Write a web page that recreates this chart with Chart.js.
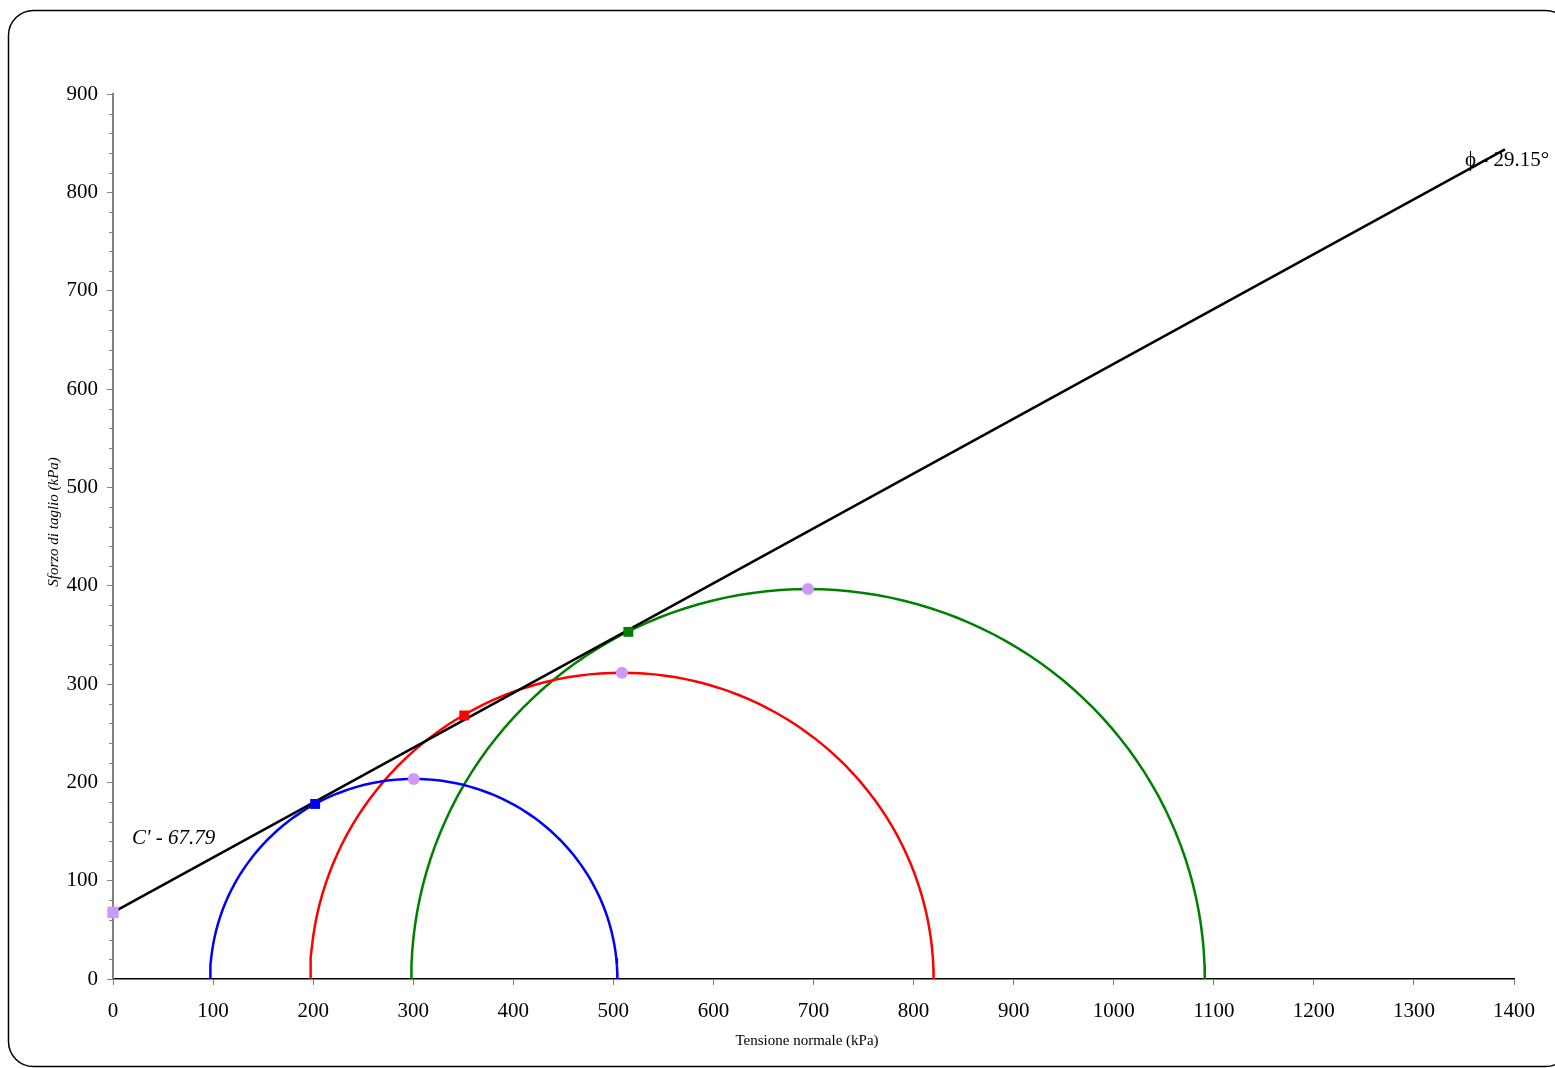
<!DOCTYPE html>
<html>
<head>
<meta charset="utf-8">
<script src="https://cdn.jsdelivr.net/npm/chart.js@4.4.1/dist/chart.umd.min.js"></script>
<style>
  body{margin:0;background:#fff;}
  #wrap{width:1555px;height:1068px;position:relative;}
</style>
</head>
<body>
<div id="wrap"><canvas id="mohrChart"></canvas></div>
<script>
// prove: tensioni principali minore / maggiore (kPa)
var sigma3=[97,197,298];
var sigma1=[504,820,1091];
var circleColors=['#0000ff','#ff0000','#008000'];
// punti di tangenza
var tangX=[202,351,515];
var tangY=[178,268,353];
// inviluppo di rottura
var coesione=67.79;
var phiGradi=29.15;
var envX=[0,1391];
// assi
var xMax=1400, xStep=100;
var yMax=900, yStep=100, yMinor=20;

var dots='#cc99ff';

function arc(i){
  var c=(sigma1[i]+sigma3[i])/2, r=(sigma1[i]-sigma3[i])/2, pts=[];
  for(var a=0;a<=180;a+=2){
    var t=a*Math.PI/180;
    pts.push({x:c-r*Math.cos(t),y:r*Math.sin(t)});
  }
  return pts;
}

var datasets=[];
// cerchi di Mohr
for(var i=0;i<sigma3.length;i++){
  datasets.push({data:arc(i),showLine:true,borderColor:circleColors[i],borderWidth:2.5,pointRadius:0,fill:false,order:3});
}
// inviluppo
var tanPhi=Math.tan(phiGradi*Math.PI/180);
datasets.push({
  data:envX.map(function(x){return {x:x,y:coesione+x*tanPhi};}),
  showLine:true,borderColor:'#000',borderWidth:2.5,pointRadius:0,order:2,clip:false
});
// punti di tangenza
for(var j=0;j<tangX.length;j++){
  datasets.push({data:[{x:tangX[j],y:tangY[j]}],pointStyle:'rect',pointRadius:7,
    backgroundColor:circleColors[j],borderColor:circleColors[j],borderWidth:0,order:1});
}
// sommità dei cerchi + intercetta
var tops=[];
for(var k=0;k<sigma3.length;k++){
  tops.push({x:(sigma1[k]+sigma3[k])/2,y:(sigma1[k]-sigma3[k])/2});
}
datasets.push({data:tops,pointStyle:'circle',pointRadius:6,backgroundColor:dots,borderWidth:0,order:1});
datasets.push({data:[{x:0,y:coesione}],pointStyle:'rect',pointRadius:8,backgroundColor:dots,borderWidth:0,order:1,clip:false});

var extras={
  id:'extras',
  beforeDraw:function(chart){
    var ctx=chart.ctx;
    ctx.save();
    ctx.fillStyle='#fff';
    ctx.fillRect(0,0,chart.width,chart.height);
    ctx.beginPath();
    ctx.roundRect(8.5,10.5,1562,1056,25);
    ctx.strokeStyle='#000';
    ctx.lineWidth=1.5;
    ctx.stroke();
    ctx.restore();
  },
  afterDraw:function(chart){
    var ctx=chart.ctx, ys=chart.scales.y;
    ctx.save();
    // tacche minori asse y
    ctx.strokeStyle='#808080';
    ctx.lineWidth=1;
    for(var v=0;v<=yMax;v+=yMinor){
      if(v%yStep===0) continue;
      var py=Math.round(ys.getPixelForValue(v))+0.5;
      ctx.beginPath();
      ctx.moveTo(ys.right-4,py);
      ctx.lineTo(ys.right,py);
      ctx.stroke();
    }
    ctx.fillStyle='#000';
    // titoli assi
    ctx.font='15px "Liberation Serif"';
    ctx.textAlign='center';
    ctx.textBaseline='middle';
    ctx.fillText('Tensione normale (kPa)',807,1041);
    ctx.save();
    ctx.translate(54,522);
    ctx.rotate(-Math.PI/2);
    ctx.font='italic 15px "Liberation Serif"';
    ctx.fillText('Sforzo di taglio (kPa)',0,0);
    ctx.restore();
    // etichette
    ctx.textAlign='left';
    ctx.font='italic 21px "Liberation Serif"';
    ctx.fillText("C' - "+coesione.toFixed(2),132,838);
    ctx.font='21px "Liberation Serif"';
    ctx.fillText('\u03d5 - '+phiGradi.toFixed(2)+'\u00b0',1465,160);
    ctx.restore();
  }
};

Chart.defaults.font.family='"Liberation Serif"';
Chart.defaults.color='#000';

new Chart('mohrChart',{
  type:'scatter',
  data:{datasets:datasets},
  options:{
    responsive:true,
    maintainAspectRatio:false,
    animation:false,
    layout:{padding:{top:94,right:41,left:0,bottom:0}},
    plugins:{legend:{display:false},tooltip:{enabled:false}},
    scales:{
      x:{
        type:'linear',min:0,max:xMax,
        ticks:{stepSize:xStep,font:{size:21},padding:14,maxRotation:0,autoSkip:false,
          callback:function(v){return String(v);}},
        grid:{drawOnChartArea:false,tickLength:6,tickColor:'#808080'},
        border:{color:'#000',width:1.5},
        afterFit:function(s){s.height=89;s.paddingLeft=0;s.paddingRight=0;}
      },
      y:{
        type:'linear',min:0,max:yMax,
        ticks:{stepSize:yStep,font:{size:21},padding:9},
        grid:{drawOnChartArea:false,tickLength:6,tickColor:'#808080'},
        border:{color:'#808080',width:2},
        afterFit:function(s){s.width=113;s.paddingTop=0;s.paddingBottom=0;}
      }
    }
  },
  plugins:[extras]
});
</script>
</body>
</html>
